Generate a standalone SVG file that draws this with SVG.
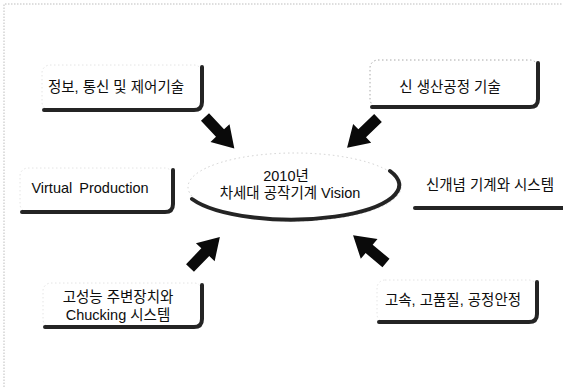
<svg xmlns="http://www.w3.org/2000/svg" xmlns:xlink="http://www.w3.org/1999/xlink" width="563" height="388" viewBox="0 0 563 388">
<style>
.lbl{font-family:"Liberation Sans","Noto Sans CJK KR",sans-serif;font-size:14.5px;fill:#0d0d0d;text-anchor:middle}
.box{fill:#fff;stroke:#e4e4e4;stroke-width:1;stroke-dasharray:1.5 2.5}
.shadow{fill:none;stroke:#242424;stroke-width:4;stroke-linecap:round;stroke-linejoin:round}
.arrow{fill:#0a0a0a}
.frame{fill:none;stroke:#bdbdbd;stroke-width:1;stroke-dasharray:1.5 1.5}
</style>
<defs>
<path id="arr" d="M0,-5.5 L22,-5.5 L22,-13 L43,0 L22,13 L22,5.5 L0,5.5 Z"/>
</defs>
<rect width="563" height="388" fill="#fff"/>
<path class="frame" d="M4,387 L4,4 L563,4"/>

<g id="n-info">
<rect class="box" x="42" y="65" width="160" height="45" rx="8"/>
<path class="shadow" d="M202,67 L202,102 Q202,110 194,110 L44,110"/>
<text class="lbl" x="116" y="92">정보, 통신 및 제어기술</text>
</g>

<g id="n-newprocess">
<rect class="box" x="370" y="60" width="168" height="47" rx="8" style="stroke:#a8a8a8"/>
<path class="shadow" d="M538,63 L538,99 Q538,107 530,107 L372,107"/>
<text class="lbl" x="450" y="92">신 생산공정 기술</text>
</g>

<g id="n-virtual">
<rect class="box" x="20" y="168" width="153" height="44" rx="8"/>
<path class="shadow" d="M173,170 L173,204 Q173,212 165,212 L22,212"/>
<text class="lbl" x="90" y="193" style="word-spacing:3px">Virtual Production</text>
</g>

<g id="n-vision">
<ellipse cx="294.5" cy="187" rx="106.5" ry="34" fill="#fff" stroke="#d0d0d0" stroke-width="1" stroke-dasharray="1.5 3"/>
<path class="shadow" d="M192,199 A106.5,34 0 1 0 390,171"/>
<text class="lbl" x="286" y="181">2010년</text>
<text class="lbl" x="290" y="198">차세대 공작기계 Vision</text>
</g>

<g id="n-newconcept">
<path class="shadow" d="M415,208 L563,208"/>
<text class="lbl" x="490" y="190">신개념 기계와 시스템</text>
</g>

<g id="n-peripheral">
<rect class="box" x="43" y="283" width="159" height="44" rx="8"/>
<path class="shadow" d="M202,285 L202,319 Q202,327 194,327 L45,327"/>
<text class="lbl" x="118" y="302">고성능 주변장치와</text>
<text class="lbl" x="118" y="320">Chucking 시스템</text>
</g>

<g id="n-quality">
<rect class="box" x="377" y="280" width="160" height="42" rx="8"/>
<path class="shadow" d="M537,282 L537,314 Q537,322 529,322 L379,322"/>
<text class="lbl" x="453" y="305">고속, 고품질, 공정안정</text>
</g>

<g id="connectors" class="arrow">
<use xlink:href="#arr" transform="translate(205,117) rotate(47)"/>
<use xlink:href="#arr" transform="translate(378,118) rotate(136)"/>
<use xlink:href="#arr" transform="translate(190,268) rotate(-46)"/>
<use xlink:href="#arr" transform="translate(386,263) rotate(-140)"/>
</g>
</svg>
